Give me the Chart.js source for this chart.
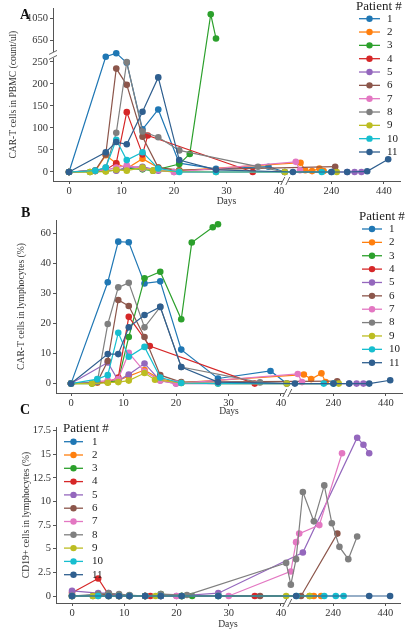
<!DOCTYPE html>
<html>
<head>
<meta charset="utf-8">
<script src="https://cdn.jsdelivr.net/npm/chart.js@4.4.0/dist/chart.umd.min.js"></script>
<style>
  html, body { margin: 0; padding: 0; background: #fff; }
  body { width: 407px; height: 632px; position: relative; overflow: hidden; }
  canvas { position: absolute; left: 0; }
</style>
</head>
<body>
<canvas id="chartA" width="407" height="210" style="top:0"></canvas>
<canvas id="chartB" width="407" height="219" style="top:200px"></canvas>
<canvas id="chartC" width="407" height="232" style="top:400px"></canvas>
<script>
// patients and colours
const patients = ["1", "2", "3", "4", "5", "6", "7", "8", "9", "10", "11"];
const colors = ["#1f77b4", "#ff7f0e", "#2ca02c", "#d62728", "#9467bd", "#8c564b",
  "#e377c2", "#7f7f7f", "#bcbd22", "#17becf", "#2f5f8f"];

// x axis ticks (days); axis is broken after day 40
const dayTicks = [0, 10, 20, 30, 40, 240, 440];

// A: CAR-T cells in PBMC (count/ul)
const carDays = [
  [0, 7, 9, 11, 14, 17, 21, 28, 38, 62],
  [0, 5, 7, 9, 11, 14, 17, 21, 122, 140, 166, 194, 210],
  [0, 4, 7, 9, 11, 14, 16, 21, 23, 27, 28],
  [0, 7, 9, 11, 14, 15, 35],
  [0, 7, 9, 11, 14, 17, 20, 300, 328, 354],
  [0, 5, 7, 9, 11, 14, 17, 21, 254],
  [0, 7, 9, 11, 14, 17, 20, 104, 120],
  [0, 5, 7, 9, 11, 14, 17, 21, 36, 62],
  [0, 4, 7, 9, 11, 14, 16, 21, 28, 62, 260],
  [0, 5, 7, 9, 11, 14, 17, 21, 28, 203, 240],
  [0, 7, 9, 11, 14, 17, 21, 28, 93, 240, 300, 376, 456]
];
const carCounts = [
  [0, 262, 270, 248, 97, 142, 20, 7, 12, 0],
  [0, 2, 38, 20, 8, 30, 10, 3, 21, 4, 2, 8, 2],
  [0, 0, 2, 4, 8, 6, 3, 18, 41, 1130, 690],
  [0, 5, 20, 136, 40, 83, 0],
  [0, 4, 3, 10, 12, 3, 0, 0, 0, 0],
  [0, 4, 40, 235, 198, 80, 10, 4, 12],
  [0, 5, 10, 15, 8, 5, 0, 23, 4],
  [0, 2, 10, 89, 250, 92, 79, 49, 12, 0],
  [0, 0, 1, 5, 3, 10, 3, 1, 0, 0, 0],
  [0, 3, 10, 73, 27, 45, 8, 0, 0, 0, 0],
  [0, 45, 68, 63, 137, 215, 27, 5, 0, 0, 0, 1.5, 29]
];
const countTicks = [0, 50, 100, 150, 200, 250, 650, 1050];

// B: CAR-T cells in lymphocytes (%)
const pctDays = [
  [0, 7, 9, 11, 14, 17, 21, 28, 38, 62],
  [0, 5, 7, 9, 11, 14, 17, 21, 127, 155, 194, 210],
  [0, 4, 7, 9, 11, 14, 17, 21, 23, 27, 28],
  [0, 7, 9, 11, 15, 35],
  [0, 7, 9, 11, 14, 17, 20, 300, 328, 354],
  [0, 5, 7, 9, 11, 14, 17, 21, 254],
  [0, 7, 9, 11, 14, 17, 20, 104, 120],
  [0, 5, 7, 9, 11, 14, 17, 21, 36, 62],
  [0, 4, 7, 9, 11, 14, 16, 21, 28, 62, 260],
  [0, 5, 7, 9, 11, 14, 17, 21, 28, 203, 240],
  [0, 7, 9, 11, 14, 17, 21, 28, 93, 240, 300, 376, 456]
];
const pctValues = [
  [0, 33.7, 54.4, 54, 33.3, 34, 11.3, 1.7, 4.2, 0],
  [0, 0.3, 0.5, 1, 2.5, 4.5, 1.5, 0.3, 3, 1.5, 3.4, 0.5],
  [0, 0, 0.5, 1, 15.5, 35, 37.2, 21.4, 53.8, 64, 66],
  [0, 0.5, 2, 22.2, 12.5, 0],
  [0, 7, 1, 3, 6.7, 1, 0, 0, 0, 0],
  [0, 0.5, 7.5, 27.8, 25.8, 15.5, 2.8, 0.5, 0.8],
  [0, 1, 1.5, 10.2, 4, 1, 0, 3.2, 0.5],
  [0, 0.5, 19.8, 32, 33.5, 18.7, 25.5, 5.5, 0.4, 0],
  [0, 0, 0.3, 0.5, 1, 3.5, 1.3, 0.2, 0, 0, 0],
  [0, 1.5, 2.8, 16.9, 8.9, 12.2, 2, 0.2, 0, 0, 0],
  [0, 9.8, 9.8, 18.7, 22.8, 25.5, 5.5, 0.5, 0, 0, 0, 0, 1.1]
];
const pctTicks = [0, 10, 20, 30, 40, 60];

// C: CD19+ cells in lymphocytes (%)
const cdDays = [
  [0, 7, 9, 11, 14, 17, 21, 28],
  [0, 5, 7, 9, 11, 14, 17, 21, 150, 166, 194],
  [0, 4, 7, 9, 11, 14, 17, 21, 23],
  [0, 5, 7, 9, 11, 14, 15, 35],
  [0, 5, 7, 9, 11, 14, 17, 20, 28, 124, 332, 356, 378],
  [0, 5, 7, 9, 11, 14, 17, 21, 36, 117, 256],
  [0, 7, 9, 11, 14, 17, 20, 30, 78, 98, 110, 187, 274],
  [0, 5, 7, 9, 11, 14, 17, 22, 60, 78, 98, 124, 166, 206, 235, 264, 298, 332],
  [0, 4, 7, 9, 11, 14, 16, 21, 28, 60, 150],
  [0, 5, 7, 9, 11, 14, 17, 21, 28, 100, 206, 250, 280],
  [0, 7, 9, 11, 14, 17, 21, 28, 98, 378, 458]
];
const cdValues = [
  [0, 0, 0, 0, 0, 0, 0, 0],
  [0, 0, 0, 0, 0, 0, 0, 0, 0, 0, 0],
  [0, 0, 0, 0, 0, 0, 0.2, 0, 0],
  [0.35, 1.85, 0.15, 0, 0, 0, 0, 0],
  [0.55, 0.3, 0.3, 0.1, 0.05, 0, 0, 0, 0.3, 4.6, 16.75, 16, 15.1],
  [0, 0.1, 0.2, 0, 0, 0, 0, 0, 0, 0, 6.6],
  [0, 0, 0, 0, 0, 0, 0, 0, 2.6, 5.7, 6.6, 7.5, 15.1],
  [0, 0.2, 0.3, 0.2, 0.1, 0, 0.2, 0.1, 3.5, 1.2, 3.9, 11, 7.9, 11.7, 7.7, 5.2, 3.9, 6.3],
  [0, 0, 0, 0, 0, 0, 0, 0, 0, 0, 0],
  [0, 0, 0, 0, 0, 0, 0, 0, 0, 0, 0, 0, 0],
  [0, 0, 0, 0, 0, 0, 0, 0, 0, 0, 0]
];
const cdTicks = [0, 2.5, 5, 7.5, 10, 12.5, 15, 17.5];

// broken / squeezed axes as printed in the figure:
// days past 40 squeezed 20x, counts past 280 squeezed 8x, percent past 40 squeezed 2x
const dayPos = (d) => (d <= 40 ? d : 40 + (d - 40) / 20);
const countPos = (v) => (v <= 280 ? v : 298.4 + (v - 650) / 8);
const pctPos = (v) => (v <= 40 ? v : 40 + (v - 40) / 2);
const samePos = (v) => v;

const SERIF = '"Liberation Serif", "DejaVu Serif", serif';
const textColor = "#333";
const axisColor = "#555";
const tickFont = { family: SERIF, size: 10.5 };
const titleFont = { family: SERIF, size: 9.6 };

function buildDatasets(daysList, valueList, posFn) {
  return patients.map((p, i) => ({
    label: p,
    data: daysList[i].map((d, k) => ({ x: dayPos(d), y: posFn(valueList[i][k]) })),
    borderColor: colors[i],
    backgroundColor: colors[i],
    pointBackgroundColor: colors[i],
    pointBorderColor: colors[i],
    pointBorderWidth: 0,
    pointRadius: 3.3,
    borderWidth: 1.2,
    tension: 0,
    order: patients.length - 1 - i, // patient 11 on top, like the original
  }));
}

// legend: line + dot, drawn where the original puts it
const patientLegend = {
  id: "patientLegend",
  afterDraw(chart, args, o) {
    if (!o || o.titleX == null) return;
    const ctx = chart.ctx;
    ctx.save();
    ctx.textBaseline = "middle";
    ctx.textAlign = "left";
    ctx.fillStyle = "#222";
    ctx.font = `13px ${SERIF}`;
    ctx.fillText("Patient #", o.titleX, o.titleY);
    ctx.font = `11px ${SERIF}`;
    chart.data.datasets.forEach((ds, i) => {
      const y = o.y0 + i * o.step;
      ctx.strokeStyle = ds.borderColor;
      ctx.lineWidth = 1.3;
      ctx.beginPath();
      ctx.moveTo(o.x0, y);
      ctx.lineTo(o.x1, y);
      ctx.stroke();
      ctx.fillStyle = ds.borderColor;
      ctx.beginPath();
      ctx.arc((o.x0 + o.x1) / 2, y, 3.2, 0, Math.PI * 2);
      ctx.fill();
      ctx.fillStyle = "#222";
      ctx.fillText(ds.label, o.labelX, y);
    });
    ctx.restore();
  },
};

// panel letter and the // marks on broken axes
const panelDecor = {
  id: "panelDecor",
  afterDraw(chart, args, o) {
    if (!o || !o.letter) return;
    const ctx = chart.ctx;
    const area = chart.chartArea;
    ctx.save();
    ctx.fillStyle = "#111";
    ctx.font = `bold 14px ${SERIF}`;
    ctx.textBaseline = "middle";
    ctx.fillText(o.letter, o.letterX, o.letterY);

    ctx.strokeStyle = axisColor;
    ctx.lineWidth = 0.9;
    const bx = chart.scales.x.getPixelForValue(o.xBreak);
    const by = area.bottom;
    ctx.fillStyle = "#fff";
    ctx.fillRect(bx - 3, by - 1, 6, 2);
    [-2.5, 2.5].forEach((d) => {
      ctx.beginPath();
      ctx.moveTo(bx + d - 2, by + 4);
      ctx.lineTo(bx + d + 2, by - 4);
      ctx.stroke();
    });
    if (o.yBreak != null) {
      const ay = chart.scales.y.getPixelForValue(o.yBreak);
      const ax = area.left;
      ctx.fillRect(ax - 1, ay - 3, 2, 6);
      [-2.5, 2.5].forEach((d) => {
        ctx.beginPath();
        ctx.moveTo(ax - 4, ay + d + 2);
        ctx.lineTo(ax + 4, ay + d - 2);
        ctx.stroke();
      });
    }
    ctx.restore();
  },
};

function makeChart(id, cfg) {
  const ctx = document.getElementById(id).getContext("2d");
  return new Chart(ctx, {
    type: "line",
    data: { datasets: buildDatasets(cfg.days, cfg.values, cfg.posFn) },
    plugins: [patientLegend, panelDecor],
    options: {
      responsive: false,
      animation: false,
      layout: { padding: { top: cfg.top, right: cfg.right, left: 0, bottom: 0 } },
      plugins: {
        legend: { display: false },
        tooltip: { enabled: false },
        patientLegend: cfg.legend,
        panelDecor: cfg.decor,
      },
      scales: {
        x: {
          type: "linear",
          min: cfg.xMin,
          max: cfg.xMax,
          afterBuildTicks: (s) => { s.ticks = dayTicks.map((d) => ({ value: dayPos(d) })); },
          afterFit: (s) => { s.height = cfg.xHeight; },
          ticks: {
            callback: (v) => String(dayTicks[dayTicks.map(dayPos).indexOf(v)]),
            font: tickFont,
            color: textColor,
            padding: 1,
            maxRotation: 0,
            autoSkip: false,
          },
          grid: { drawOnChartArea: false, tickLength: 3, color: axisColor },
          border: { color: axisColor, width: 1 },
          title: { display: true, text: "Days", font: titleFont, color: textColor, padding: { top: 0, bottom: cfg.daysPad } },
        },
        y: {
          type: "linear",
          min: cfg.yMin,
          max: cfg.yMax,
          afterBuildTicks: (s) => { s.ticks = cfg.ticks.map((v) => ({ value: cfg.posFn(v) })); },
          afterFit: (s) => { s.width = cfg.yWidth; },
          ticks: {
            callback: (v) => String(cfg.ticks[cfg.ticks.map(cfg.posFn).indexOf(v)]),
            font: tickFont,
            color: textColor,
            padding: 2,
            autoSkip: false,
          },
          grid: { drawOnChartArea: false, tickLength: 3, color: axisColor },
          border: { color: axisColor, width: 1 },
          title: { display: true, text: cfg.yTitle, font: titleFont, color: textColor, padding: { top: cfg.yTitlePad, bottom: 0 } },
        },
      },
    },
  });
}

makeChart("chartA", {
  days: carDays, values: carCounts, posFn: countPos, ticks: countTicks,
  xMin: -3.05, xMax: 63.05, yMin: -20.5, yMax: 372,
  top: 8, right: 7, yWidth: 53, xHeight: 29, daysPad: 3, yTitlePad: 8,
  yTitle: "CAR-T cells in PBMC (count/ul)",
  legend: { titleX: 356, titleY: 7, x0: 359, x1: 380, labelX: 387, y0: 18.7, step: 13.33 },
  decor: { letter: "A", letterX: 20, letterY: 15, xBreak: 41.2, yBreak: 266 },
});

makeChart("chartB", {
  days: pctDays, values: pctValues, posFn: pctPos, ticks: pctTicks,
  xMin: -2.86, xMax: 63.05, yMin: -3.13, yMax: 54.4,
  top: 20, right: 5, yWidth: 56, xHeight: 26, daysPad: 2, yTitlePad: 16,
  yTitle: "CAR-T cells in lymphocytes (%)",
  legend: { titleX: 359, titleY: 16.7, x0: 362, x1: 382, labelX: 389, y0: 29, step: 13.37 },
  decor: { letter: "B", letterX: 21, letterY: 13, xBreak: 41.2 },
});

makeChart("chartC", {
  days: cdDays, values: cdValues, posFn: samePos, ticks: cdTicks,
  xMin: -3.07, xMax: 62.8, yMin: -0.74, yMax: 17.88,
  top: 27, right: 7, yWidth: 56, xHeight: 29, daysPad: 2, yTitlePad: 21,
  yTitle: "CD19+ cells in lymphocytes (%)",
  legend: { titleX: 63, titleY: 29, x0: 64, x1: 83, labelX: 92, y0: 41.7, step: 13.3 },
  decor: { letter: "C", letterX: 20, letterY: 10, xBreak: 41.2 },
});
</script>
</body>
</html>
